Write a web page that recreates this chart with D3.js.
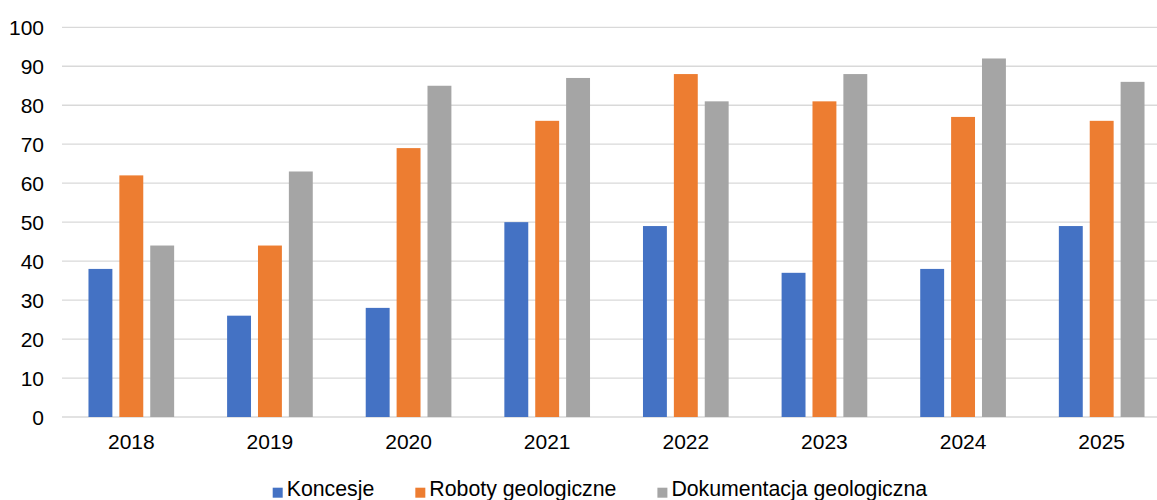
<!DOCTYPE html>
<html><head><meta charset="utf-8">
<script src="https://cdn.jsdelivr.net/npm/d3@7"></script>
<style>body{margin:0;background:#fff}svg{display:block}text{font-family:"Liberation Sans",Arial,sans-serif;fill:#000}</style>
</head><body><svg id="c" width="1157" height="500"></svg>
<script>
const years = ["2018","2019","2020","2021","2022","2023","2024","2025"];
const seriesNames = ["Koncesje","Roboty geologiczne","Dokumentacja geologiczna"];
const koncesje = [38,26,28,50,49,37,38,49];
const roboty = [62,44,69,76,88,81,77,76];
const dokumentacja = [44,63,85,87,81,88,92,86];
const yTicks = [0,10,20,30,40,50,60,70,80,90,100];
const colors = ["#4472C4","#ED7D31","#A5A5A5"];
const values = [koncesje, roboty, dokumentacja];

(function(){
const svg = d3.select("#c");
const mLeft = 62, mRight = 1171, mTop = 27.3, mBottom = 417;
const fs = "21px";
const x0 = d3.scaleBand().domain(years).range([mLeft,mRight]).padding(0);
const bw = x0.bandwidth();
const x1 = d3.scaleBand().domain(seriesNames).range([bw*0.191, bw*0.809]).paddingInner(0.226).paddingOuter(0);
const y = d3.scaleLinear().domain([0,100]).range([mBottom, mTop]);

svg.append("g").selectAll("line").data(yTicks).join("line")
  .attr("x1", mLeft).attr("x2", 1157)
  .attr("y1", d=>y(d)).attr("y2", d=>y(d))
  .attr("stroke", "#D9D9D9").attr("stroke-width", 1.3);

svg.append("g").selectAll("text").data(yTicks).join("text")
  .attr("x", 44).attr("y", d=>y(d)).attr("dy","0.36em")
  .attr("text-anchor","end").attr("font-size",fs).text(d=>d);

const g = svg.append("g");
years.forEach((yr,i)=>{
  seriesNames.forEach((s,j)=>{
    g.append("rect")
      .attr("x", x0(yr)+x1(s)).attr("width", x1.bandwidth())
      .attr("y", y(values[j][i])).attr("height", y(0)-y(values[j][i]))
      .attr("fill", colors[j]);
  });
});

svg.append("g").selectAll("text").data(years).join("text")
  .attr("x", d=>x0(d)+bw/2).attr("y", 449)
  .attr("text-anchor","middle").attr("font-size",fs).text(d=>d);

let lx = 272.7;
const lg = svg.append("g");
seriesNames.forEach((s,j)=>{
  lg.append("rect").attr("x", lx).attr("y", 487.7).attr("width", 10).attr("height", 10).attr("fill", colors[j]);
  const t = lg.append("text").attr("x", lx+14).attr("y", 496).attr("font-size","21.3px").text(s);
  lx += 14 + t.node().getComputedTextLength() + 41;
});
})();
</script></body></html>
